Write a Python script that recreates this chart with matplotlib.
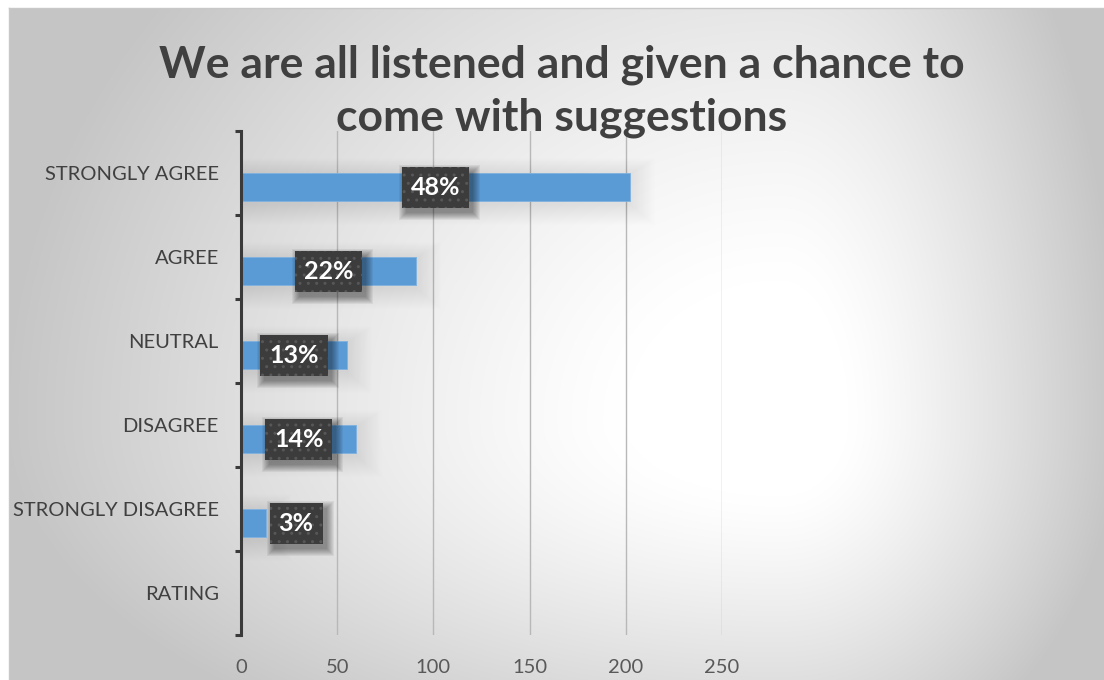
import matplotlib.pyplot as plt
import numpy as np
from matplotlib.patches import Rectangle
from matplotlib.transforms import IdentityTransform

# survey responses, bottom to top as drawn on the axis
categories = ["RATING", "STRONGLY DISAGREE", "DISAGREE", "NEUTRAL", "AGREE", "STRONGLY AGREE"]
responses = [0, 13, 60, 55, 91, 202]
xticks = [0, 50, 100, 150, 200, 250]
title = "We are all listened and given a chance to\ncome with suggestions"

bar_color = "#5B9BD5"
text_color = "#404040"
font = ["Lato", "DejaVu Sans"]

total = sum(responses)
shares = [r / total for r in responses]

W, H = 1104, 680
fig = plt.figure(figsize=(W / 100, H / 100), dpi=100)
fig.patch.set_facecolor("white")

# chart area background: off-centre radial gradient, white in the middle
bg = fig.add_axes([0, 0, 1, 1], zorder=0)
yy, xx = np.mgrid[0:H, 0:W].astype(float)
cx, cy = 780.0, 420.0
sx = np.where(xx < cx, 780.0, 340.0)
sy = np.where(yy < cy, 700.0, 380.0)
t = np.hypot((xx - cx) / sx, (yy - cy) / sy)
f = np.clip((t - 0.2) / 0.8, 0, 1) ** 1.2
shade = (255 - 58 * f) / 255.0
img = np.dstack([shade, shade, shade])
img[:8, :, :] = 1.0
img[:, :9, :] = 1.0
bg.imshow(img, extent=(0, W, H, 0), aspect="auto", interpolation="bilinear")
bg.plot([9, W], [8, 8], color="#c8c8c8", lw=1)
bg.plot([9, 9], [8, H], color="#c8c8c8", lw=1)
bg.set_xlim(0, W)
bg.set_ylim(H, 0)
bg.axis("off")

# plot area in pixel terms
left, right, top, bottom = 241, 722, 131, 635
ax = fig.add_axes([left / W, 1 - bottom / H, (right - left) / W, (bottom - top) / H], zorder=1)
ax.set_facecolor("none")
ax.set_xlim(0, 250)
ax.set_ylim(-0.5, len(categories) - 0.5)

px_x = 250 / (right - left)
px_y = len(categories) / (bottom - top)

ypos = np.arange(len(categories)) - 0.167
bar_h = 0.333

# faint blurred shadow under each bar
for y, v in zip(ypos, responses):
    if v <= 0:
        continue
    for k in range(1, 22):
        ax.add_patch(Rectangle((0, y - bar_h / 2 - (k + 3) * px_y), v + k * 1.2 * px_x,
                               bar_h + (1.8 * k + 1) * px_y, facecolor="black", alpha=0.004,
                               linewidth=0, zorder=1))

ax.barh(ypos, responses, height=bar_h, color=bar_color, edgecolor="#7fb2df",
        linewidth=0.6, zorder=3)

# percentage labels in dark dotted boxes
labels = []
for y, v, s in zip(ypos, responses, shares):
    if v <= 0:
        continue
    label = f"{s * 100:.0f}%"
    if v < 30:
        xy, off = (v, y), (5 + 25, 0)
    else:
        xy, off = (v / 2, y), (0, 0)
    labels.append(ax.annotate(label, xy=xy, xytext=off, textcoords="offset pixels",
                              ha="center", va="center", fontsize=18, fontweight="bold",
                              family=font, color="white", zorder=5,
                              bbox=dict(boxstyle="square,pad=0.36", fc="#3c3c3c",
                                        ec="#575757", lw=0, hatch="..")))

# axes styling
for side in ["top", "right", "bottom"]:
    ax.spines[side].set_visible(False)
ax.spines["left"].set_color("#3a3a3a")
ax.spines["left"].set_linewidth(2.2)
ax.spines["left"].set_zorder(6)

ax.set_yticks(np.arange(len(categories)))
ax.set_yticklabels(categories, family=font, fontsize=14.5, color=text_color)
ax.set_yticks(np.arange(len(categories) + 1) - 0.5, minor=True)
ax.tick_params(axis="y", which="major", length=0, pad=16)
ax.tick_params(axis="y", which="minor", length=4, width=2.2, color="#3a3a3a", direction="out")

ax.set_xticks(xticks)
ax.set_xticklabels([str(x) for x in xticks], family=font, fontsize=14.5, color="#595959")
ax.tick_params(axis="x", length=0, pad=17)
ax.grid(axis="x", color="#b8b8b8", linewidth=1.0, zorder=0)
ax.set_axisbelow(True)

fig.text(0.509, 0.866, title, ha="center", va="center", fontsize=32, fontweight="bold",
         family=font, color=text_color, linespacing=1.4, zorder=2)

# drop shadows for the label boxes, sized from the rendered boxes
fig.canvas.draw()
for lab in labels:
    bb = lab.get_bbox_patch().get_window_extent()
    for k in range(8):
        grow = 7 - k
        ax.add_artist(Rectangle((bb.x0 + 4 - grow, bb.y0 - 5 - grow),
                                bb.width + 2 * grow, bb.height + 2 * grow,
                                transform=IdentityTransform(), facecolor="black",
                                alpha=0.055, linewidth=0, zorder=4, clip_on=False))

fig.savefig("out.png", dpi=100)
